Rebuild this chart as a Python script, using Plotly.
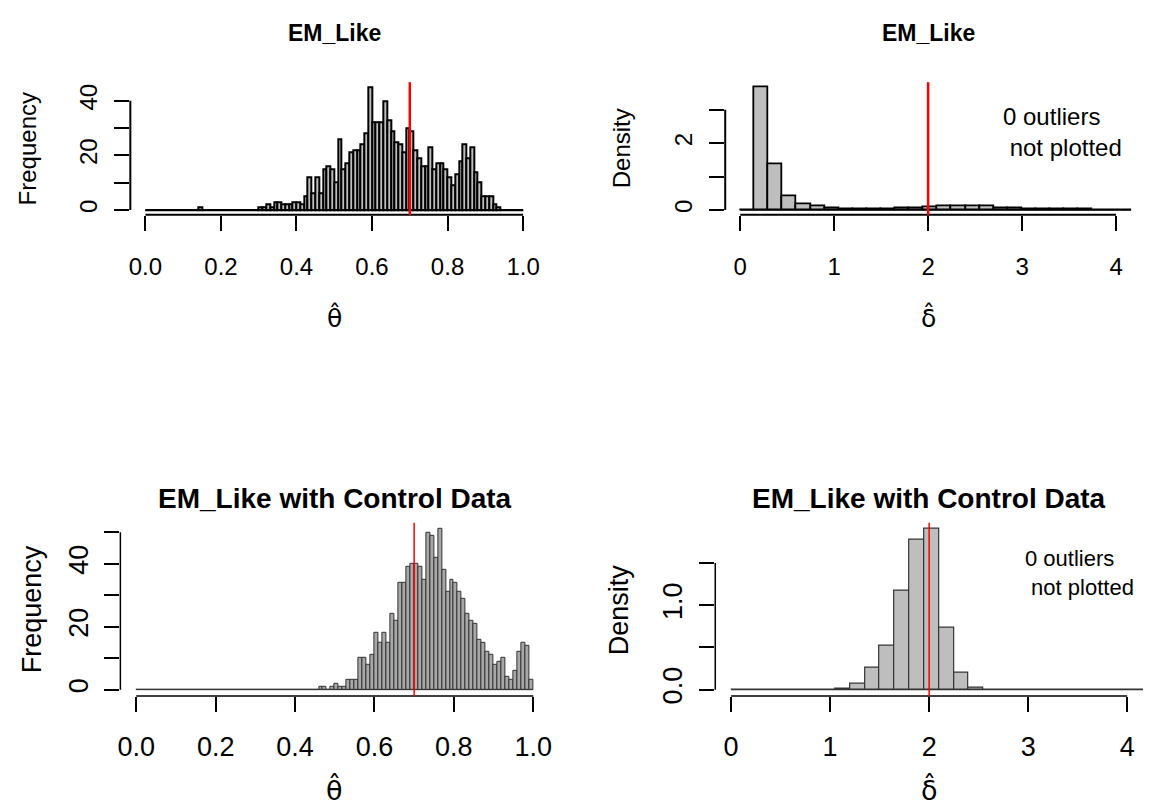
import plotly.graph_objects as go

W, H = 1149, 812

# ---------------- data ----------------
# EM_Like, theta-hat: frequencies, bins of 0.01 from 0.00 to 1.00
em_theta_counts = [
    0, 0, 0, 0, 0, 0, 0, 0, 0, 0,
    0, 0, 0, 0, 1, 0, 0, 0, 0, 0,
    0, 0, 0, 0, 0, 0, 0, 0, 0, 0,
    1, 1, 2, 1, 3, 3, 2, 2, 2, 3,
    3, 2, 5, 12, 6, 12, 6, 15, 16, 15,
    10, 26, 15, 17, 21, 22, 22, 24, 28, 45,
    32, 32, 32, 40, 33, 29, 25, 24, 21, 30,
    29, 22, 19, 16, 16, 23, 15, 17, 17, 15,
    12, 9, 13, 18, 24, 19, 23, 14, 10, 5,
    5, 5, 2, 1, 0, 0, 0, 0, 0, 0,
]
# EM_Like, delta-hat: densities, bins of 0.15 from 0.00 to 4.20
em_delta_density = [
    0.00, 3.68, 1.37, 0.40, 0.17, 0.12, 0.04, 0.02, 0.01, 0.01,
    0.02, 0.04, 0.06, 0.08, 0.10, 0.12, 0.10, 0.12, 0.06, 0.04,
    0.03, 0.02, 0.02, 0.01, 0.01, 0.005, 0.00, 0.00,
]
# EM_Like with Control Data, theta-hat: frequencies, bins of 0.01
ctl_theta_counts = [
    0, 0, 0, 0, 0, 0, 0, 0, 0, 0,
    0, 0, 0, 0, 0, 0, 0, 0, 0, 0,
    0, 0, 0, 0, 0, 0, 0, 0, 0, 0,
    0, 0, 0, 0, 0, 0, 0, 0, 0, 0,
    0, 0, 0, 0, 0, 0, 1, 1, 0, 1,
    2, 1, 1, 3, 3, 3, 10, 10, 8, 11,
    18, 15, 18, 15, 24, 22, 34, 34, 39, 40,
    40, 39, 35, 50, 49, 42, 51, 38, 31, 35,
    34, 31, 29, 24, 22, 21, 16, 15, 12, 11,
    8, 9, 10, 4, 3, 6, 12, 15, 14, 3,
]
# EM_Like with Control Data, delta-hat: densities, bins of 0.15
ctl_delta_density = [
    0.00, 0.00, 0.00, 0.00, 0.00, 0.00, 0.00, 0.012, 0.067, 0.255,
    0.52, 1.17, 1.78, 1.90, 0.735, 0.197, 0.024, 0.00, 0.00, 0.00,
    0.00, 0.00, 0.00, 0.00, 0.00, 0.00, 0.00, 0.00,
]

theta_bin = 0.01
delta_bin = 0.15
theta_true = 0.7
delta_true = 2.0

theta_ticks = [0.0, 0.2, 0.4, 0.6, 0.8, 1.0]
theta_ticklabels = ["0.0", "0.2", "0.4", "0.6", "0.8", "1.0"]
delta_ticks = [0, 1, 2, 3, 4]
delta_ticklabels = ["0", "1", "2", "3", "4"]

tl_yticks = [0, 10, 20, 30, 40]
tl_yticklabels = ["0", "", "20", "", "40"]
tr_yticks = [0, 1, 2, 3]
tr_yticklabels = ["0", "", "2", ""]
bl_yticks = [0, 10, 20, 30, 40, 50]
bl_yticklabels = ["0", "", "20", "", "40", ""]
br_yticks = [0, 0.5, 1.0, 1.5]
br_yticklabels = ["0.0", "", "1.0", ""]

titles = ["EM_Like", "EM_Like", "EM_Like with Control Data", "EM_Like with Control Data"]
ylabels = ["Frequency", "Density", "Frequency", "Density"]
xlabels = ["θ\u0302", "δ\u0302", "θ\u0302", "δ\u0302"]
outlier_note = "0 outliers<br>\u00a0not plotted"

# ---------------- layout geometry (pixels) ----------------
def fx(x):
    return x / W

def fy(y):
    return 1 - y / H

SANS = "Liberation Sans, Arial, sans-serif"
SYM = "DejaVu Sans"

panels = [
    dict(vals=em_theta_counts, lo=0.0, step=theta_bin, xlim=(0, 1), xt=theta_ticks, xtt=theta_ticklabels,
         yt=tl_yticks, ytt=tl_yticklabels, box=(128, 538, 83, 217), truth=theta_true,
         fill="#BEBEBE", edge="black", ew=2.0, fs=24, tfs=23, tick_w=2, red_w=2.5,
         ylab_x=25, note=None, sym_y=321, sym_fs=25),
    dict(vals=em_delta_density, lo=0.0, step=delta_bin, xlim=(0, 4), xt=delta_ticks, xtt=delta_ticklabels,
         yt=tr_yticks, ytt=tr_yticklabels, box=(726, 1134, 83, 217), truth=delta_true,
         fill="#BEBEBE", edge="black", ew=1.8, fs=24, tfs=23, tick_w=2, red_w=2.5,
         ylab_x=622, note=(1003, 133, 24), sym_y=321, sym_fs=25),
    dict(vals=ctl_theta_counts, lo=0.0, step=theta_bin, xlim=(0, 1), xt=theta_ticks, xtt=theta_ticklabels,
         yt=bl_yticks, ytt=bl_yticklabels, box=(118, 549, 528, 703), truth=theta_true,
         fill="#A8A8A8", edge="#333333", ew=1.0, fs=27, tfs=28, tick_w=1.5, red_w=1.5,
         ylab_x=30, note=None, sym_y=797, sym_fs=27),
    dict(vals=ctl_delta_density, lo=0.0, step=delta_bin, xlim=(0, 4), xt=delta_ticks, xtt=delta_ticklabels,
         yt=br_yticks, ytt=br_yticklabels, box=(716, 1146, 528, 703), truth=delta_true,
         fill="#BEBEBE", edge="#333333", ew=1.2, fs=27, tfs=28, tick_w=1.5, red_w=1.5,
         ylab_x=620, note=(1025, 579, 22), sym_y=797, sym_fs=27),
]

fig = go.Figure()
layout = dict(width=W, height=H, margin=dict(l=0, r=0, t=0, b=0), showlegend=False,
              plot_bgcolor="white", paper_bgcolor="white", bargap=0)
shapes = []
annotations = []

for i, p in enumerate(panels):
    k = "" if i == 0 else str(i + 1)
    xa, ya = "x" + k, "y" + k
    x0p, x1p, y0p, y1p = p["box"]
    vals = p["vals"]
    n = len(vals)
    centers = [p["lo"] + p["step"] * (j + 0.5) for j in range(n)]
    fig.add_trace(go.Bar(x=centers, y=vals, width=[p["step"]] * n, xaxis=xa, yaxis=ya,
                         marker=dict(color=p["fill"], line=dict(color=p["edge"], width=p["ew"])),
                         hoverinfo="skip"))
    a, b = p["xlim"]
    ext = 0.04 * (b - a)
    m = max(vals)
    layout["xaxis" + k] = dict(domain=[fx(x0p), fx(x1p)], anchor=ya, range=[a - ext, b + ext],
                               showgrid=False, zeroline=False, showline=False,
                               ticks="outside", ticklen=15, tickwidth=p["tick_w"], tickcolor="black",
                               tickvals=p["xt"], ticktext=p["xtt"],
                               tickfont=dict(family=SANS, size=p["fs"], color="black"),
                               ticklabelstandoff=15 if i < 2 else 12)
    layout["yaxis" + k] = dict(domain=[fy(y1p), fy(y0p)], anchor=xa, range=[-0.04 * m, 1.04 * m],
                               showgrid=False, zeroline=False, showline=False,
                               ticks="outside", ticklen=15, tickwidth=p["tick_w"], tickcolor="black",
                               tickvals=p["yt"], ticktext=p["ytt"], tickangle=-90,
                               tickfont=dict(family=SANS, size=p["fs"], color="black"),
                               ticklabelstandoff=8 if i < 2 else 6)
    lw = p["tick_w"]
    # R-style axis lines spanning only the tick range
    shapes.append(dict(type="line", xref=xa, yref=ya + " domain", x0=p["xt"][0], x1=p["xt"][-1], y0=0, y1=0,
                       line=dict(color="black", width=lw)))
    shapes.append(dict(type="line", xref=xa + " domain", yref=ya, x0=0, x1=0, y0=p["yt"][0], y1=p["yt"][-1],
                       line=dict(color="black", width=lw)))
    # baseline of the empty bins
    shapes.append(dict(type="line", xref=xa, yref=ya, x0=p["lo"], x1=p["lo"] + p["step"] * n, y0=0, y1=0,
                       line=dict(color=p["edge"], width=p["ew"])))
    # true value
    shapes.append(dict(type="line", xref=xa, yref=ya + " domain", x0=p["truth"], x1=p["truth"], y0=0, y1=1,
                       line=dict(color="#FF0000", width=p["red_w"])))
    cx = (x0p + x1p) / 2
    annotations.append(dict(text="<b>%s</b>" % titles[i], x=fx(cx), y=fy(33 if i < 2 else 503),
                            xref="paper", yref="paper", showarrow=False, xanchor="center", yanchor="middle",
                            font=dict(family=SANS, size=p["tfs"], color="black")))
    annotations.append(dict(text=ylabels[i], x=fx(p["ylab_x"]), y=fy((y0p + y1p) / 2), textangle=-90,
                            xref="paper", yref="paper", showarrow=False, xanchor="center", yanchor="middle",
                            font=dict(family=SANS, size=p["fs"], color="black")))
    annotations.append(dict(text=xlabels[i], x=fx(cx), y=fy(p["sym_y"]),
                            xref="paper", yref="paper", showarrow=False, xanchor="center", yanchor="middle",
                            font=dict(family=SYM, size=p["sym_fs"], color="black")))
    if p["note"]:
        nx, ny, nfs = p["note"]
        annotations.append(dict(text=outlier_note, x=fx(nx), y=fy(ny), align="left",
                                xref="paper", yref="paper", showarrow=False, xanchor="left", yanchor="middle",
                                font=dict(family=SANS, size=nfs, color="black")))

layout["shapes"] = shapes
layout["annotations"] = annotations
fig.update_layout(**layout)
fig.write_html("out.html")
